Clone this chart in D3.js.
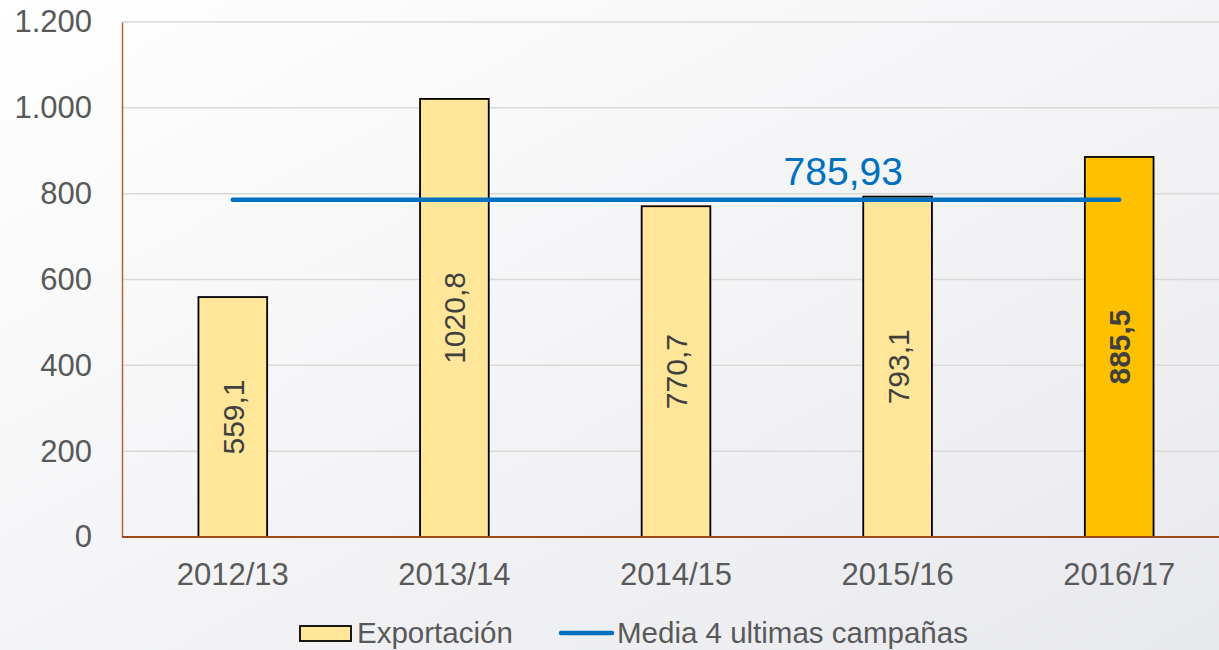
<!DOCTYPE html>
<html lang="es">
<head>
<meta charset="UTF-8">
<title>Exportación</title>
<script src="https://d3js.org/d3.v7.min.js"></script>
<style>
  body { margin: 0; font-family: "Liberation Sans", Arial, sans-serif; }
  svg { display: block; }
</style>
</head>
<body>
<div id="chart"></div>
<script>
// datos
const campanas = ["2012/13", "2013/14", "2014/15", "2015/16", "2016/17"];
const exportacion = [559.1, 1020.8, 770.7, 793.1, 885.5];
const media = 785.93;
const yTicks = [0, 200, 400, 600, 800, 1000, 1200];

const width = 1219, height = 650;
const margin = {top: 22, left: 122, bottom: 113};

const svg = d3.select("#chart").append("svg")
  .attr("width", width).attr("height", height);

const defs = svg.append("defs");
const grad = defs.append("linearGradient").attr("id", "bg")
  .attr("x1", "0%").attr("y1", "0%").attr("x2", "100%").attr("y2", "100%");
grad.append("stop").attr("offset", "0%").attr("stop-color", "#ffffff");
grad.append("stop").attr("offset", "100%").attr("stop-color", "#e8e9ed");
svg.append("rect").attr("width", width).attr("height", height).attr("fill", "url(#bg)");

const fmt = v => String(v).replace(".", ",");

const x = d3.scaleBand().domain(campanas)
  .range([margin.left, 1230]).paddingInner(0.69).paddingOuter(0.345);
const y = d3.scaleLinear().domain([0, 1200]).range([height - margin.bottom, margin.top]);

// rejilla
svg.append("g").selectAll("line").data(yTicks.filter(d => d > 0)).join("line")
  .attr("x1", margin.left).attr("x2", width)
  .attr("y1", d => y(d)).attr("y2", d => y(d))
  .attr("stroke", "#d9d9d9").attr("stroke-width", 1.5);

// eje y
const yAxis = svg.append("g").attr("transform", `translate(${margin.left},0)`)
  .call(d3.axisLeft(y).tickValues(yTicks).tickSize(0).tickPadding(30)
    .tickFormat(d => d3.format(",")(d).replace(/,/g, ".")));
yAxis.select(".domain").attr("stroke", "#b0643a").attr("stroke-width", 1.5);
yAxis.attr("font-size", 31).attr("font-family", "Liberation Sans, Arial, sans-serif");
yAxis.selectAll("text").attr("fill", "#595959");

// barras
svg.append("g").selectAll("rect").data(exportacion).join("rect")
  .attr("x", (d, i) => x(campanas[i]))
  .attr("y", d => y(d))
  .attr("width", x.bandwidth())
  .attr("height", d => y(0) - y(d))
  .attr("fill", (d, i) => i === exportacion.length - 1 ? "#ffc000" : "#ffe699")
  .attr("stroke", "#000").attr("stroke-width", 1.8);

// eje x
const xAxis = svg.append("g").attr("transform", `translate(0,${y(0)})`)
  .call(d3.axisBottom(x).tickSize(0).tickPadding(26));
xAxis.select(".domain").attr("stroke", "#9c4a1a").attr("stroke-width", 2)
  .attr("d", `M${margin.left},0H${width}`);
xAxis.attr("font-size", 31).attr("font-family", "Liberation Sans, Arial, sans-serif");
xAxis.selectAll("text").attr("fill", "#595959");

// etiquetas de barras
svg.append("g").selectAll("text").data(exportacion).join("text")
  .attr("transform", (d, i) => {
    const cx = x(campanas[i]) + x.bandwidth() / 2;
    const cy = (y(d) + y(0)) / 2;
    return `translate(${cx + 11},${cy}) rotate(-90)`;
  })
  .attr("text-anchor", "middle")
  .attr("font-size", 30)
  .attr("font-weight", (d, i) => i === exportacion.length - 1 ? "bold" : "normal")
  .attr("fill", "#404040")
  .text(d => fmt(d));

// media
const cx0 = x(campanas[0]) + x.bandwidth() / 2;
const cx1 = x(campanas[campanas.length - 1]) + x.bandwidth() / 2;
svg.append("line")
  .attr("x1", cx0).attr("x2", cx1)
  .attr("y1", y(media)).attr("y2", y(media))
  .attr("stroke", "#0070c0").attr("stroke-width", 4.5).attr("stroke-linecap", "round");
svg.append("text")
  .attr("x", x(campanas[3]) - 20).attr("y", y(media) - 15)
  .attr("text-anchor", "middle")
  .attr("font-size", 39).attr("fill", "#0070c0")
  .text(fmt(media));

// leyenda
const lg = svg.append("g").attr("transform", "translate(0,633)");
lg.append("rect").attr("x", 300).attr("y", -7).attr("width", 51).attr("height", 15)
  .attr("fill", "#ffe699").attr("stroke", "#000").attr("stroke-width", 1.8);
lg.append("text").attr("x", 357).attr("y", 10).attr("font-size", 29.5).attr("fill", "#595959")
  .text("Exportación");
lg.append("line").attr("x1", 561).attr("x2", 612).attr("y1", 0).attr("y2", 0)
  .attr("stroke", "#0070c0").attr("stroke-width", 4.5).attr("stroke-linecap", "round");
lg.append("text").attr("x", 617).attr("y", 10).attr("font-size", 29.5).attr("fill", "#595959")
  .text("Media 4 ultimas campañas");
</script>
</body>
</html>
